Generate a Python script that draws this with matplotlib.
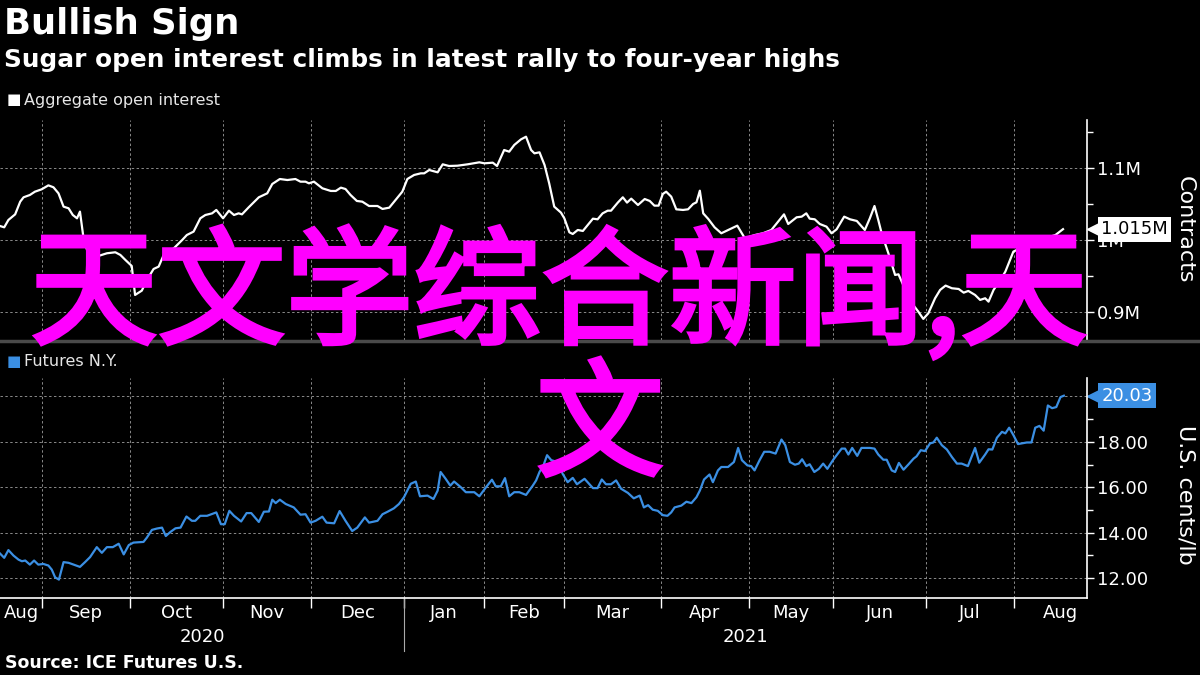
import matplotlib
matplotlib.use("Agg")
import matplotlib.pyplot as plt
import matplotlib.transforms as mtransforms
import matplotlib.patheffects as pe
from matplotlib.lines import Line2D

# x = trading-day index (0 = mid Aug 2020)
oi_day = [0.0, 1.0, 2.0, 3.6, 4.8, 5.6, 7.1, 8.3, 9.9, 11.5, 12.7, 13.9, 15.1, 16.3, 17.3, 18.3,
          19.0, 19.8, 21.0, 23.4, 25.4, 27.4, 28.6, 29.8, 31.3, 32.1, 33.7, 34.9, 36.5, 37.7,
          38.9, 41.3, 43.3, 44.4, 46.0, 47.6, 48.8, 50.4, 51.4, 53.0, 54.4, 55.6, 56.7, 57.5,
          59.1, 61.5, 63.5, 64.7, 66.5, 68.3, 70.2, 71.4, 72.6, 73.4, 74.6, 76.6, 78.6, 79.8,
          81.0, 82.1, 83.3, 84.8, 86.1, 87.7, 89.7, 90.9, 92.5, 94.0, 95.6, 96.8, 98.4, 100.0,
          100.8, 102.0, 104.0, 105.2, 106.7, 108.7, 111.1, 113.9, 115.1, 117.1, 118.1, 119.8,
          121.0, 122.2, 123.8, 125.0, 126.2, 127.0, 128.2, 129.4, 130.5, 131.7, 133.3, 134.1,
          135.3, 136.1, 137.3, 138.5, 140.9, 142.0, 143.2, 144.4, 145.2, 146.8, 148.0, 149.0,
          150.0, 151.6, 153.2, 154.4, 155.5, 156.5, 157.5, 158.3, 159.5, 160.7, 162.3, 163.5,
          164.7, 165.5, 166.3, 167.1, 168.3, 169.8, 171.4, 173.4, 175.2, 177.0, 179.4, 181.3,
          183.3, 184.9, 186.3, 187.3, 189.3, 190.5, 191.6, 192.4, 193.6, 194.8, 196.4, 197.6,
          198.8, 200.6, 202.0, 203.6, 205.5, 206.7, 207.8, 208.7, 209.5, 211.1, 212.7, 213.5,
          215.5, 217.0, 218.2, 219.4, 220.6, 222.2, 223.4, 224.7, 226.2, 227.8, 229.0, 230.1,
          231.7, 232.9, 234.1, 234.9, 236.1, 237.7, 238.9, 240.8, 244.8, 247.6, 250.8, 252.6]
# aggregate open interest, thousands of contracts
oi_val = [1019.4, 1017.6, 1027.8, 1035.6, 1053.2, 1059.3, 1062.5, 1067.1, 1070.4, 1075.9, 1073.2,
          1064.8, 1046.3, 1044.0, 1034.7, 1030.1, 1039.4, 1004.6, 979.2, 977.8, 981.5, 982.9,
          979.2, 972.2, 963.9, 923.6, 929.6, 944.4, 959.7, 963.0, 979.2, 988.4, 1000.0, 1006.9,
          1011.6, 1030.1, 1034.7, 1037.0, 1041.7, 1030.1, 1040.7, 1034.7, 1037.0, 1035.6,
          1045.4, 1059.3, 1064.8, 1077.8, 1084.7, 1083.3, 1084.7, 1081.0, 1081.0, 1078.7,
          1081.0, 1071.8, 1068.1, 1068.1, 1072.7, 1070.8, 1062.5, 1054.2, 1053.2, 1047.2,
          1047.2, 1043.1, 1044.9, 1055.6, 1067.1, 1084.7, 1090.3, 1092.6, 1092.6, 1097.2,
          1094.0, 1105.1, 1102.8, 1103.2, 1105.1, 1107.9, 1106.5, 1107.4, 1102.8, 1125.0,
          1122.7, 1132.0, 1139.8, 1143.5, 1125.0, 1120.4, 1121.8, 1104.2, 1078.7, 1046.3,
          1038.0, 1030.1, 1010.6, 1008.3, 1013.9, 1012.5, 1029.6, 1028.7, 1037.0, 1040.7,
          1040.7, 1051.9, 1059.3, 1051.9, 1057.4, 1048.6, 1056.9, 1054.2, 1047.7, 1047.7,
          1063.9, 1067.1, 1060.2, 1042.6, 1041.7, 1042.6, 1050.0, 1052.3, 1068.5, 1037.0,
          1029.2, 1017.6, 1009.3, 1014.8, 1019.9, 1002.3, 1006.9, 1009.3, 1013.9, 1025.5,
          1035.6, 1022.2, 1031.5, 1032.4, 1037.0, 1029.6, 1028.7, 1022.2, 1018.5, 1009.3,
          1014.8, 1032.4, 1028.7, 1026.4, 1013.9, 1030.1, 1047.2, 1027.8, 1009.3, 981.5,
          951.4, 952.3, 925.9, 909.7, 900.5, 890.3, 898.1, 919.0, 930.6, 936.6, 932.9, 931.9,
          926.8, 929.2, 923.6, 916.7, 919.0, 914.3, 930.6, 944.4, 956.0, 983.8, 995.4, 1000.9,
          1006.9, 1015.0]

px_day = [0.0, 1.0, 2.0, 3.2, 4.4, 5.2, 6.0, 7.1, 8.1, 9.1, 10.3, 11.5, 12.3, 13.1, 14.0, 15.1,
          16.3, 17.5, 19.0, 20.2, 21.4, 23.0, 24.2, 25.4, 26.8, 28.2, 29.4, 30.6, 31.7, 34.1,
          34.9, 36.1, 37.3, 38.5, 39.4, 40.5, 41.7, 42.9, 44.3, 45.6, 46.4, 47.6, 49.2, 51.4,
          52.5, 53.4, 54.5, 55.6, 57.3, 58.6, 59.7, 61.5, 62.7, 63.9, 64.7, 65.5, 66.5, 67.9,
          69.8, 71.4, 72.6, 73.8, 75.0, 76.6, 77.6, 79.4, 80.7, 82.1, 83.7, 84.9, 86.7, 87.7,
          89.7, 90.9, 92.1, 93.6, 94.8, 96.0, 97.6, 98.8, 99.8, 101.6, 103.0, 104.0, 104.7,
          105.9, 107.0, 107.9, 109.5, 110.7, 112.7, 113.9, 115.5, 116.9, 117.8, 119.0, 120.0,
          121.0, 122.2, 123.4, 125.0, 126.6, 127.4, 128.2, 129.2, 130.0, 131.0, 132.5, 133.7,
          134.9, 136.1, 137.1, 138.9, 140.9, 142.0, 143.0, 144.0, 145.2, 146.4, 147.6, 149.2,
          150.6, 152.0, 153.0, 154.0, 155.1, 156.3, 157.5, 158.6, 159.5, 160.3, 161.9, 163.1,
          164.3, 165.5, 166.3, 167.3, 168.6, 169.4, 170.6, 171.4, 173.0, 174.4, 175.4, 176.3,
          177.6, 178.5, 179.3, 180.5, 181.6, 182.9, 184.3, 185.7, 186.6, 187.7, 188.9, 189.8,
          190.6, 191.6, 192.4, 193.5, 194.6, 195.6, 196.6, 198.0, 200.0, 200.8, 201.6, 202.5,
          203.7, 204.7, 206.7, 207.8, 208.7, 209.9, 210.7, 211.9, 212.7, 213.6, 214.7, 215.9,
          217.1, 217.8, 218.8, 219.8, 221.0, 221.8, 222.6, 223.8, 225.0, 226.2, 227.4, 228.5,
          230.0, 231.7, 232.7, 234.1, 234.9, 235.8, 236.9, 238.1, 238.9, 239.8, 240.8, 241.9,
          242.8, 244.0, 245.1, 246.0, 247.0, 248.0, 249.0, 250.0, 251.0, 252.0, 252.8]
# NY sugar futures, US cents/lb
px_val = [13.08, 12.89, 13.23, 12.99, 12.81, 12.74, 12.77, 12.59, 12.77, 12.59, 12.62, 12.55,
          12.37, 12.03, 11.93, 12.70, 12.67, 12.59, 12.49, 12.70, 12.92, 13.36, 13.11, 13.36,
          13.36, 13.51, 13.04, 13.45, 13.56, 13.59, 13.78, 14.12, 14.18, 14.22, 13.85, 14.03,
          14.19, 14.22, 14.71, 14.52, 14.52, 14.74, 14.74, 14.89, 14.37, 14.37, 14.96, 14.74,
          14.49, 14.86, 14.86, 14.47, 14.92, 14.93, 15.45, 15.30, 15.45, 15.26, 15.11, 14.79,
          14.81, 14.44, 14.52, 14.70, 14.44, 14.41, 14.95, 14.52, 14.07, 14.22, 14.67, 14.44,
          14.52, 14.81, 14.92, 15.07, 15.26, 15.56, 16.15, 16.25, 15.60, 15.63, 15.48, 15.85,
          16.67, 16.37, 16.07, 16.25, 16.00, 15.78, 15.78, 15.60, 16.00, 16.33, 16.04, 16.04,
          16.40, 15.60, 15.78, 15.78, 15.66, 16.07, 16.30, 16.67, 16.99, 17.41, 17.19, 17.11,
          16.59, 16.22, 16.41, 16.13, 16.37, 15.96, 15.96, 16.34, 16.13, 16.13, 16.30, 15.93,
          15.75, 15.51, 15.63, 15.11, 15.21, 15.01, 14.96, 14.77, 14.74, 14.89, 15.11, 15.19,
          15.36, 15.30, 15.56, 15.85, 16.34, 16.56, 16.22, 16.74, 16.89, 16.89, 17.11, 17.73,
          17.19, 16.96, 16.93, 16.74, 17.19, 17.56, 17.56, 17.48, 18.10, 17.85, 17.11, 16.99,
          17.04, 17.23, 16.93, 17.01, 16.67, 16.81, 17.04, 16.81, 17.21, 17.70, 17.70, 17.44,
          17.73, 17.38, 17.73, 17.73, 17.70, 17.44, 17.21, 17.21, 16.74, 16.67, 17.07, 16.77,
          17.01, 17.26, 17.36, 17.63, 17.59, 17.93, 17.97, 18.18, 17.85, 17.66, 17.33, 17.04,
          17.04, 16.93, 17.73, 17.08, 17.44, 17.67, 17.66, 18.18, 18.44, 18.37, 18.62, 18.30,
          17.90, 17.93, 17.97, 17.97, 18.62, 18.70, 18.49, 19.60, 19.48, 19.53, 19.97, 20.03]

# first trading day of each month, Sep 2020 .. Aug 2021
month_start = [10, 31, 53, 74, 96, 115, 134, 157, 178, 198, 220, 241]
month_names = ["Aug", "Sep", "Oct", "Nov", "Dec", "Jan", "Feb", "Mar", "Apr", "May",
               "Jun", "Jul", "Aug"]
year_names = ["2020", "2021"]
oi_ticks = [0.9, 1.0, 1.1]
oi_labels = ["0.9M", "1M", "1.1M"]
px_ticks = [12, 14, 16, 18, 20]
px_labels = ["12.00", "14.00", "16.00", "18.00", ""]   # 20.00 sits under the last-value tag
oi_last = "1.015M"
px_last = "20.03"

BLUE = "#3b8fe3"
GRID = "#8a8a8a"
MAGENTA = "#ff00ff"
X_END = 258.3

fig = plt.figure(figsize=(12, 6.75), dpi=100, facecolor="black")
ax1 = fig.add_axes([0, 1 - 340 / 675, 1087 / 1200, 220 / 675])
ax2 = fig.add_axes([0, 1 - 598 / 675, 1087 / 1200, 220 / 675])

for ax in (ax1, ax2):
    ax.set_facecolor("black")
    for s in ("top", "left", "bottom"):
        ax.spines[s].set_visible(False)
    ax.spines["right"].set_color("white")
    ax.spines["right"].set_linewidth(1.2)
    ax.yaxis.tick_right()
    ax.tick_params(axis="y", colors="white", labelsize=13, length=5, width=1, pad=2)
    ax.tick_params(axis="y", which="minor", colors="white", length=4, width=1)
    ax.set_xticks(month_start)
    ax.set_xlim(0, X_END)
    ax.grid(True, color=GRID, linestyle=(0, (2.5, 2.5)), linewidth=0.7)

oi_m = [v / 1000 for v in oi_val]
ax1.plot(oi_day, oi_m, color="white", lw=1.6)
ax1.set_ylim(0.861, 1.1667)
ax1.set_yticks(oi_ticks)
ax1.set_yticklabels(oi_labels)
ax1.set_yticks([0.95, 1.05, 1.15], minor=True)
ax1.tick_params(axis="x", length=0, labelbottom=False)

ax2.plot(px_day, px_val, color=BLUE, lw=1.6)
ax2.set_ylim(11.12, 20.81)
ax2.set_yticks(px_ticks)
ax2.set_yticklabels(px_labels)
ax2.set_yticks([13, 15, 17, 19], minor=True)
ax2.spines["bottom"].set_visible(True)
ax2.spines["bottom"].set_color("white")
ax2.spines["bottom"].set_linewidth(1.2)
ax2.set_xticklabels([""] * len(month_start))
ax2.tick_params(axis="x", colors="white", length=7, width=1)
mids = [month_start[0] / 2] + [(a + b) / 2 for a, b in zip(month_start[:-1], month_start[1:])] + [252]
ax2.set_xticks(mids, minor=True)
ax2.set_xticklabels(month_names, minor=True)
ax2.tick_params(axis="x", which="minor", length=0, colors="white", labelsize=13, pad=4)

# year labels and separator
tr_x = mtransforms.blended_transform_factory(ax2.transData, ax2.transAxes)
jan = month_start[4]
for name, xm in zip(year_names, [jan / 2, (jan + X_END) / 2]):
    ax2.text(xm, -0.178, name, transform=tr_x, ha="center", va="center",
             color="white", fontsize=13)
ax2.plot([jan, jan], [0, -0.24], transform=tr_x, color="#aaaaaa", lw=0.8, clip_on=False)

# last-value tags
tr1 = mtransforms.blended_transform_factory(ax1.transAxes, ax1.transData)
last_oi = oi_m[-1]
ax1.plot([1.007], [last_oi], marker="<", ms=11, color="white", transform=tr1, clip_on=False)
ax1.text(1.013, last_oi, oi_last, transform=tr1, ha="left", va="center", color="black",
         fontsize=13, bbox=dict(boxstyle="square,pad=0.2", fc="white", ec="none"),
         clip_on=False, zorder=5)
tr2 = mtransforms.blended_transform_factory(ax2.transAxes, ax2.transData)
ax2.plot([1.007], [px_val[-1]], marker="<", ms=11, color=BLUE, transform=tr2, clip_on=False)
ax2.text(1.013, px_val[-1], px_last, transform=tr2, ha="left", va="center", color="white",
         fontsize=13, bbox=dict(boxstyle="square,pad=0.2", fc=BLUE, ec="none"),
         clip_on=False, zorder=5)

# axis titles on the right
fig.text(1185 / 1200, 1 - 230 / 675, "Contracts", rotation=270, ha="center", va="center",
         color="white", fontsize=16)
fig.text(1185 / 1200, 1 - 495 / 675, "U.S. cents/lb", rotation=270, ha="center", va="center",
         color="white", fontsize=16)

# headings, legends, source
fig.text(4 / 1200, 1 - 24 / 675, "Bullish Sign", ha="left", va="center", color="white",
         fontsize=25.5, weight="bold")
fig.text(4 / 1200, 1 - 60 / 675, "Sugar open interest climbs in latest rally to four-year highs",
         ha="left", va="center", color="white", fontsize=17.8, weight="bold")
fig.text(7 / 1200, 1 - 100 / 675, "\u25a0", ha="left", va="center", color="white", fontsize=11)
fig.text(24 / 1200, 1 - 100 / 675, "Aggregate open interest", ha="left", va="center",
         color="#e6e6e6", fontsize=11.5)
fig.text(7 / 1200, 1 - 362 / 675, "\u25a0", ha="left", va="center", color=BLUE, fontsize=11)
fig.text(24 / 1200, 1 - 362 / 675, "Futures N.Y.", ha="left", va="center",
         color="#e6e6e6", fontsize=11.5)
fig.text(5 / 1200, 1 - 663 / 675, "Source: ICE Futures U.S.", ha="left", va="center",
         color="white", fontsize=12.5, weight="bold")

fig.add_artist(Line2D([0, 1], [1 - 341 / 675] * 2, color="#4a4a4a", lw=2.5,
                      transform=fig.transFigure))

# magenta overlay text (regular weight thickened with a stroke)
cjk = ["Noto Sans CJK SC", "DejaVu Sans"]
thick = [pe.withStroke(linewidth=3, foreground=MAGENTA, joinstyle="miter", capstyle="butt")]
fig.text(30 / 1200, 1 - 297 / 675, "天文学综合新闻,天", ha="left", va="center",
         color=MAGENTA, fontsize=92, family=cjk, zorder=10, path_effects=thick)
fig.text(600 / 1200, 1 - 430 / 675, "文", ha="center", va="center",
         color=MAGENTA, fontsize=92, family=cjk, zorder=10, path_effects=thick)

fig.savefig("out.png", dpi=100, facecolor="black")
